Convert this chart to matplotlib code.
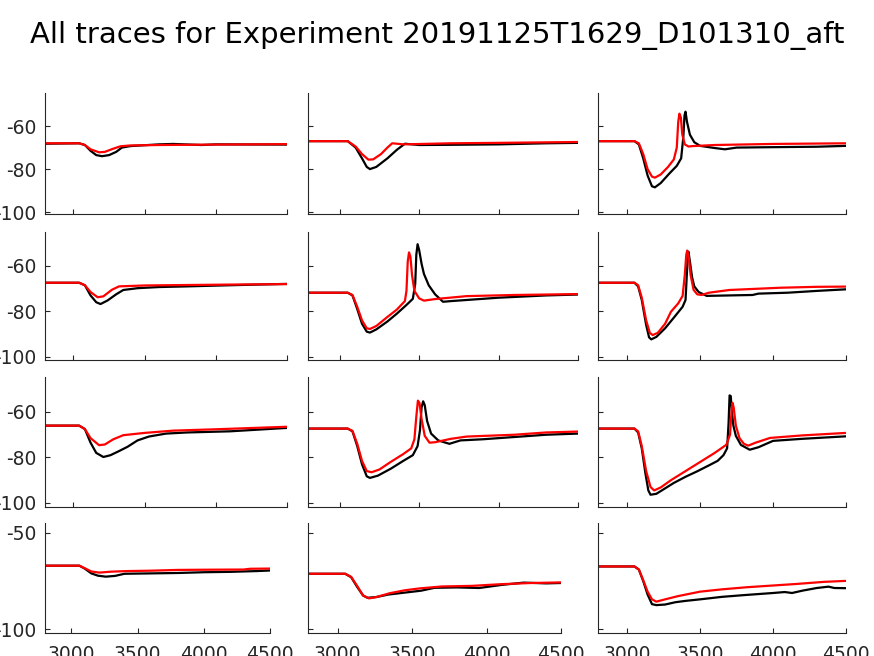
import matplotlib
matplotlib.use('Agg')
import matplotlib.pyplot as plt

plt.rcParams['axes.unicode_minus'] = False

title = 'All traces for Experiment 20191125T1629_D101310_aft'

# traces: (time, black voltage) and (time, red voltage) per panel
t_k11 = [2800, 3040, 3080, 3120, 3160, 3200, 3250, 3300, 3340, 3400, 3600, 3700, 3900, 4000, 4500]
v_k11 = [-68.2, -68, -68.8, -71.5, -73.5, -74, -73.5, -72, -70, -69.3, -68.5, -68.3, -68.8, -68.5, -68.6]
t_r11 = [2800, 3040, 3080, 3120, 3180, 3220, 3280, 3330, 3400, 3600, 4000, 4500]
v_r11 = [-68, -68, -68.8, -70.8, -72.2, -72, -70.5, -69.4, -69, -68.8, -68.6, -68.4]

t_k12 = [2800, 3050, 3100, 3140, 3170, 3190, 3230, 3300, 3360, 3410, 3500, 3700, 4000, 4300, 4500]
v_k12 = [-67, -67, -70, -75, -79, -80, -79, -75, -71, -68.2, -68.8, -68.7, -68.5, -68, -67.8]
t_r12 = [2800, 3050, 3100, 3140, 3180, 3210, 3260, 3300, 3330, 3360, 3400, 3700, 4000, 4500]
v_r12 = [-67, -67, -69.5, -73, -75.6, -75.5, -73, -70, -68, -68.2, -68.5, -68, -67.8, -67.4]

t_k13 = [2800, 3050, 3080, 3110, 3140, 3170, 3190, 3230, 3290, 3340, 3370, 3385, 3393, 3400,
         3410, 3430, 3460, 3500, 3600, 3670, 3750, 4000, 4300, 4500]
v_k13 = [-67, -67, -68.5, -75, -83, -88, -88.5, -86.5, -82, -78.5, -75, -65, -55, -53.3,
         -58, -64, -67.5, -69.2, -70.2, -70.8, -70, -69.8, -69.6, -69.2]
t_r13 = [2800, 3050, 3080, 3110, 3140, 3170, 3190, 3230, 3280, 3320, 3340, 3350, 3358, 3368,
         3378, 3395, 3420, 3450, 3600, 4000, 4500]
v_r13 = [-67, -67, -68, -73, -80, -83.5, -84, -82.5, -79, -75.5, -70, -58, -54.2, -56,
         -64, -68.5, -69.5, -69.3, -68.8, -68.3, -68]

t_k21 = [2800, 3040, 3080, 3120, 3160, 3190, 3240, 3300, 3350, 3450, 3600, 3800, 4100, 4500]
v_k21 = [-67.4, -67.4, -68.5, -73, -76, -76.8, -75.2, -72.5, -70.6, -69.8, -69.3, -69, -68.5, -67.9]
t_r21 = [2800, 3040, 3080, 3120, 3170, 3210, 3270, 3320, 3500, 3800, 4100, 4500]
v_r21 = [-67.4, -67.4, -68.5, -71.5, -73.8, -73.4, -70.5, -69, -68.6, -68.4, -68.2, -68]

t_k22 = [2800, 3050, 3080, 3110, 3140, 3170, 3190, 3230, 3300, 3360, 3420, 3460, 3475, 3482,
         3490, 3500, 3515, 3530, 3560, 3600, 3650, 3700, 4000, 4300, 4500]
v_k22 = [-71.8, -71.8, -73, -79, -85.5, -89, -89.4, -88, -84.5, -81, -77.2, -74.5, -68, -55,
         -50.4, -53, -59, -63.5, -68.5, -72.5, -75.8, -75.5, -74, -73, -72.6]
t_r22 = [2800, 3050, 3080, 3110, 3140, 3170, 3190, 3230, 3300, 3360, 3410, 3420, 3428, 3436,
         3445, 3455, 3470, 3500, 3530, 3600, 3800, 4100, 4500]
v_r22 = [-71.8, -71.8, -72.8, -78, -84, -87.5, -87.8, -86.5, -82.5, -79.2, -75.5, -71, -58, -54,
         -56, -64, -71, -74.3, -75.3, -74.6, -73.3, -72.8, -72.4]

t_k23 = [2800, 3050, 3075, 3100, 3130, 3150, 3165, 3200, 3260, 3330, 3380, 3400, 3408, 3415,
         3420, 3430, 3445, 3460, 3490, 3545, 3700, 3860, 3900, 4100, 4300, 4500]
v_k23 = [-67.4, -67.4, -69, -75, -86, -91.5, -92.4, -91.3, -87.5, -82, -78, -75, -65, -56,
         -53.7, -58, -65, -69, -71.5, -73.2, -73, -72.8, -72.2, -71.8, -71, -70.3]
t_r23 = [2800, 3050, 3075, 3100, 3130, 3155, 3175, 3210, 3260, 3300, 3350, 3380, 3395, 3405,
         3412, 3422, 3435, 3455, 3480, 3510, 3560, 3700, 4050, 4300, 4500]
v_r23 = [-67.4, -67.4, -68.5, -74, -84, -89.5, -90.5, -89.5, -85.5, -80.2, -76.5, -73.2, -64, -55,
         -53.2, -56, -64, -70.5, -72.5, -72.8, -71.8, -70.6, -69.6, -69.2, -69.1]

t_k31 = [2800, 3040, 3080, 3120, 3160, 3210, 3260, 3320, 3380, 3450, 3530, 3650, 3800, 4100, 4500]
v_k31 = [-66, -66, -67.5, -73.5, -78, -79.8, -79, -77.2, -75.3, -72.5, -70.8, -69.5, -69, -68.5, -67]
t_r31 = [2800, 3040, 3080, 3120, 3180, 3220, 3280, 3350, 3500, 3700, 4000, 4500]
v_r31 = [-66, -66, -67.5, -71.5, -74.6, -74.3, -72, -70.2, -69.2, -68.2, -67.6, -66.5]

t_k32 = [2800, 3050, 3080, 3110, 3140, 3170, 3190, 3240, 3320, 3400, 3460, 3490, 3505, 3515,
         3525, 3535, 3550, 3575, 3620, 3690, 3760, 3900, 4100, 4300, 4500]
v_k32 = [-67.3, -67.3, -68.5, -75, -83, -88.3, -89, -88, -85, -81.5, -79, -75, -68, -58,
         -55.3, -57, -64, -69.5, -72.5, -74, -72.5, -72, -71, -70, -69.5]
t_r32 = [2800, 3050, 3080, 3110, 3140, 3170, 3200, 3250, 3320, 3400, 3450, 3470, 3482, 3492,
         3502, 3515, 3535, 3565, 3600, 3700, 3800, 4100, 4300, 4500]
v_r32 = [-67.3, -67.3, -68.3, -74, -81.5, -86, -86.5, -85.3, -82, -78.5, -76, -72, -62, -55,
         -56, -63, -70.5, -73.5, -73.3, -71.8, -70.8, -70, -69, -68.6]

t_k33 = [2800, 3050, 3075, 3100, 3125, 3145, 3160, 3200, 3250, 3320, 3400, 3480, 3560, 3620,
         3660, 3685, 3695, 3702, 3710, 3718, 3728, 3745, 3780, 3840, 3900, 4000, 4200, 4500]
v_k33 = [-67.3, -67.3, -69, -76, -87, -94.5, -96.4, -96, -94, -91.2, -88.5, -86.1, -83.5, -81.5,
         -79, -76, -65, -52.7, -53, -60, -66, -70.5, -74.5, -76.6, -75.5, -72.7, -71.8, -70.7]
t_r33 = [2800, 3050, 3075, 3100, 3130, 3160, 3185, 3230, 3300, 3400, 3500, 3600, 3680, 3705,
         3715, 3722, 3730, 3745, 3770, 3800, 3830, 3880, 3980, 4200, 4500]
v_r33 = [-67.3, -67.3, -68.5, -75, -86, -93, -94.5, -93.2, -90, -86, -82, -78, -74.4, -70,
         -60, -56, -58, -66, -71.5, -74, -74.8, -73.5, -71.4, -70.3, -69.2]

t_k41 = [2800, 3060, 3100, 3150, 3200, 3260, 3330, 3400, 3600, 3800, 4000, 4200, 4400, 4500]
v_k41 = [-67, -67, -68.5, -71, -72.2, -72.7, -72.3, -71.2, -71, -70.8, -70.4, -70.2, -69.8, -69.5]
t_r41 = [2800, 3060, 3100, 3150, 3210, 3300, 3420, 3600, 3800, 4000, 4300, 4350, 4500]
v_r41 = [-67, -67, -68.3, -70, -70.6, -70.1, -69.8, -69.6, -69.2, -69.1, -69, -68.6, -68.5]

t_k42 = [2800, 3050, 3090, 3130, 3170, 3200, 3260, 3340, 3450, 3560, 3650, 3800, 3950, 4100,
         4250, 4400, 4500]
v_k42 = [-71.2, -71.2, -73, -78, -82.5, -83.7, -83.3, -82, -81, -80, -78.5, -78.3, -78.6, -77,
         -75.8, -76.2, -76]
t_r42 = [2800, 3050, 3090, 3130, 3170, 3210, 3260, 3350, 3450, 3550, 3700, 3900, 4100, 4300, 4500]
v_r42 = [-71.2, -71.2, -72.8, -77.5, -82.5, -84, -83.3, -81.3, -79.8, -78.8, -77.8, -77.5, -76.6,
         -76, -75.7]

t_k43 = [2800, 3050, 3080, 3110, 3140, 3170, 3200, 3260, 3330, 3400, 3500, 3650, 3800, 4000,
         4080, 4130, 4200, 4300, 4380, 4420, 4500]
v_k43 = [-67.4, -67.4, -69, -75, -82, -87, -87.5, -87.2, -86, -85.3, -84.5, -83.2, -82.3, -81.2,
         -80.7, -81.2, -80, -78.6, -77.9, -78.6, -78.7]
t_r43 = [2800, 3050, 3080, 3110, 3140, 3170, 3200, 3260, 3350, 3500, 3650, 3820, 4000, 4160,
         4350, 4500]
v_r43 = [-67.4, -67.4, -69, -74.5, -80.5, -84.5, -85.7, -84.5, -82.8, -80.5, -79.3, -78.2, -77.3,
         -76.5, -75.4, -74.9]

black = [[(t_k11, v_k11), (t_k12, v_k12), (t_k13, v_k13)],
         [(t_k21, v_k21), (t_k22, v_k22), (t_k23, v_k23)],
         [(t_k31, v_k31), (t_k32, v_k32), (t_k33, v_k33)],
         [(t_k41, v_k41), (t_k42, v_k42), (t_k43, v_k43)]]
red = [[(t_r11, v_r11), (t_r12, v_r12), (t_r13, v_r13)],
       [(t_r21, v_r21), (t_r22, v_r22), (t_r23, v_r23)],
       [(t_r31, v_r31), (t_r32, v_r32), (t_r33, v_r33)],
       [(t_r41, v_r41), (t_r42, v_r42), (t_r43, v_r43)]]

x_ticks = [3000, 3500, 4000, 4500]
y_ticks = [[-100, -80, -60], [-100, -80, -60], [-100, -80, -60], [-100, -50]]
y_lims = [(-100.9, -44.6), (-101.5, -45), (-101.8, -44.6), (-102, -44.8)]

# axes boxes in pixels (left, right per column; top, bottom per row)
W, H = 874, 656
col_left = [45, 308, 598]
col_right = [[287, 578, 846]] * 3 + [[270, 561, 846]]
row_top = [93, 232, 377, 523]
row_bot = [214, 360, 507, 633]

fig = plt.figure(figsize=(W / 100, H / 100), dpi=100)
fig.suptitle(title, fontsize=21, y=0.968)

for r in range(4):
    for c in range(3):
        l, rr = col_left[c], col_right[r][c]
        ax = fig.add_axes([l / W, 1 - row_bot[r] / H, (rr - l) / W, (row_bot[r] - row_top[r]) / H])
        tk, vk = black[r][c]
        tr, vr = red[r][c]
        ax.plot(tk, vk, color='black', lw=1.6)
        ax.plot(tr, vr, color='red', lw=1.6)
        ax.set_xlim(2800, 4500)
        ax.set_ylim(*y_lims[r])
        ax.set_xticks(x_ticks)
        ax.set_yticks(y_ticks[r])
        for s in ['top', 'right']:
            ax.spines[s].set_visible(False)
        for s in ['left', 'bottom']:
            ax.spines[s].set_linewidth(0.8)
            ax.spines[s].set_color('#262626')
        ax.tick_params(direction='in', length=3.5, width=0.8, color='#262626',
                       labelsize=13.5, labelcolor='#262626')
        ax.tick_params(axis='x', pad=9)
        ax.tick_params(axis='y', pad=6)
        if r < 3:
            ax.set_xticklabels([])
        if c > 0:
            ax.set_yticklabels([])

fig.savefig('out.png', dpi=100)
